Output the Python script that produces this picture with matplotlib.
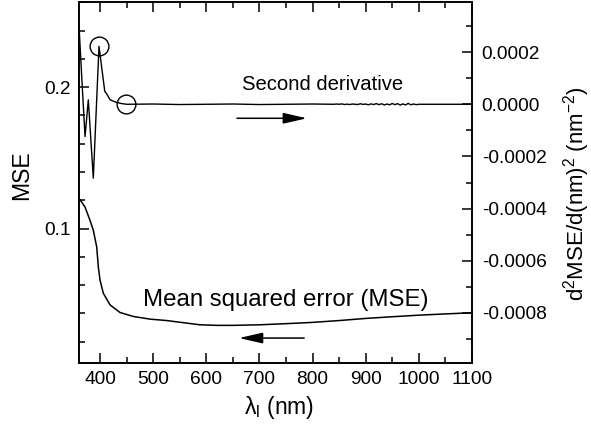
import numpy as np
import matplotlib
matplotlib.use("Agg")
import matplotlib.pyplot as plt
from matplotlib.ticker import MultipleLocator, FormatStrFormatter, FuncFormatter

# フォント設定
plt.rcParams['font.family'] = ['Liberation Sans', 'DejaVu Sans']
plt.rcParams['mathtext.fontset'] = 'custom'
plt.rcParams['mathtext.rm'] = 'Liberation Sans'
plt.rcParams['mathtext.it'] = 'Liberation Sans:italic'
plt.rcParams['mathtext.default'] = 'regular'

# MSE (左軸)
mse_nm = [360.5, 362.4, 371.8, 381.2, 387.4, 393.8, 396.8, 400, 406.2, 418.8,
          437.6, 462.7, 494.1, 525.5, 588.2, 620, 650, 700, 750, 800, 850,
          900, 950, 1000, 1050, 1100]
mse_val = [0.1212, 0.1204, 0.1152, 0.1058, 0.0988, 0.0871, 0.0730, 0.0637,
           0.0543, 0.0461, 0.0407, 0.0379, 0.0360, 0.0350, 0.0320, 0.0316,
           0.0316, 0.0320, 0.0328, 0.0337, 0.0350, 0.0365, 0.0377, 0.0388,
           0.0397, 0.0405]

# 二階微分 (右軸, 単位 1e-4)
d2_nm = [360.5, 366, 371.8, 378, 387.4, 398.1, 409, 412, 419, 430, 440, 450,
         500, 550, 600, 650, 700, 750, 800, 840]
d2_val = [3.0, 0.9, -1.24, 0.17, -2.83, 2.22, 0.49, 0.42, 0.17, 0.08, 0.03,
          0.0, 0.01, -0.01, 0.0, 0.01, -0.01, 0.0, 0.01, 0.0]
# 840-1000 nm の細かい揺らぎ (単位 1e-6)
noise_nm = list(range(845, 1005, 5))
noise_val = [1, 0, 1.5, -1, 0.5, -1, 1, 0, -1, 2, -0.5, 1, -2, 1.5, -1, 2.5,
             -1.5, 2, -2.5, 1, -2, 3, -1.5, 2.5, -3, 1.5, -2.5, 3.5, -2, 1,
             -1.5, 0]
tail_nm = [1010, 1050, 1100]
tail_val = [0.0, 0.0, 0.0]

# 丸印の位置
circle_nm = [398.1, 449]
circle_val = [2.245e-4, 0.0]

x_d2 = np.array(d2_nm + noise_nm + tail_nm)
y_d2 = np.array([v * 1e-4 for v in d2_val] + [v * 1e-6 for v in noise_val]
                + tail_val)

fig = plt.figure(figsize=(5.91, 4.34), dpi=100)
ax = fig.add_axes([0.1337, 0.1636, 0.6649, 0.8329])
ax2 = ax.twinx()

ax.plot(mse_nm, mse_val, color='black', lw=1.1)
ax2.plot(x_d2, y_d2, color='black', lw=1.0)
ax2.plot(circle_nm, circle_val, 'o', ms=13.5, mfc='none', mec='black', mew=1.0)

ax.set_xlim(360.5, 1100)
ax.set_ylim(0.005, 0.2605)
ax2.set_ylim(-0.000992, 0.000394)

ax.xaxis.set_major_locator(MultipleLocator(100))
ax.xaxis.set_minor_locator(MultipleLocator(50))
ax.yaxis.set_major_locator(MultipleLocator(0.1))
ax.yaxis.set_minor_locator(MultipleLocator(0.02))
ax.yaxis.set_major_formatter(FormatStrFormatter('%.1f'))
ax2.yaxis.set_major_locator(MultipleLocator(0.0002))
ax2.yaxis.set_minor_locator(MultipleLocator(0.0001))
ax2.yaxis.set_major_formatter(FuncFormatter(lambda v, p: f"{round(v, 4) + 0:.4f}"))

ax.tick_params(which='both', direction='in', top=True, right=False,
               labelsize=13.8, width=1.1)
ax.tick_params(which='major', length=7, pad=6)
ax.tick_params(which='minor', length=4)
ax2.tick_params(which='both', direction='in', labelsize=13.8, width=1.1)
ax2.tick_params(which='major', length=7, pad=7)
ax2.tick_params(which='minor', length=4)
for a in (ax, ax2):
    for s in a.spines.values():
        s.set_linewidth(1.2)

ax.set_xlabel(r'$\lambda_\mathrm{l}$ (nm)', fontsize=16.6)
ax.xaxis.set_label_coords(0.51, -0.085)
ax.set_ylabel('MSE', fontsize=16.6)
ax.yaxis.set_label_coords(-0.117, 0.52)
ax2.set_ylabel(r'd$^2$MSE/d(nm)$^2$ (nm$^{-2}$)', fontsize=16)
ax2.yaxis.set_label_coords(1.226, 0.468)

# 注記
ax.text(0.6196, 0.754, 'Second derivative', transform=ax.transAxes,
        ha='center', va='baseline', fontsize=14.6)
ax.text(0.5254, 0.1575, 'Mean squared error (MSE)', transform=ax.transAxes,
        ha='center', va='baseline', fontsize=17.3)
arrow_style = dict(arrowstyle='-|>,head_length=1.45,head_width=0.33',
                   mutation_scale=10, color='black', lw=1.1,
                   shrinkA=0, shrinkB=0)
ax.annotate('', xy=(0.580, 0.677), xytext=(0.402, 0.677),
            xycoords='axes fraction', arrowprops=arrow_style)
ax.annotate('', xy=(0.407, 0.069), xytext=(0.573, 0.069),
            xycoords='axes fraction', arrowprops=arrow_style)

fig.savefig('out.png', dpi=100)
